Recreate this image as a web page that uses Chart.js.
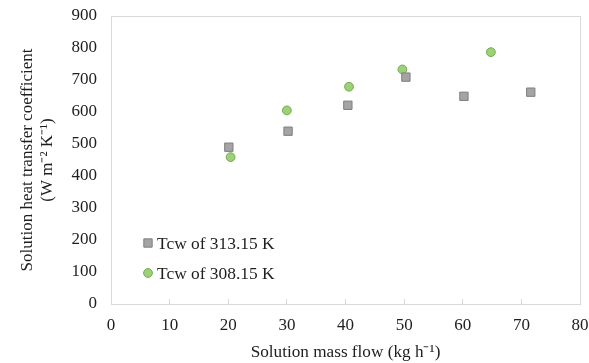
<!DOCTYPE html>
<html lang="en">
<head>
<meta charset="UTF-8">
<title>Solution heat transfer coefficient</title>
<script src="https://cdn.jsdelivr.net/npm/chart.js"></script>
<style>
  html, body { margin: 0; padding: 0; background: #fff; }
  #wrap { width: 589px; height: 363px; }
</style>
</head>
<body>
<div id="wrap"><canvas id="chart"></canvas></div>
<script>
// series 1 - Tcw of 313.15 K (grey squares)
const flow313 = [20.1, 30.2, 40.4, 50.3, 60.2, 71.6];
const htc313  = [490, 540, 621, 709, 649, 662];

// series 2 - Tcw of 308.15 K (green circles)
const flow308 = [20.4, 30.0, 40.6, 49.7, 64.8];
const htc308  = [459, 605, 679, 733, 787];

const seriesNames = ['Tcw of 313.15 K', 'Tcw of 308.15 K'];

const toPoints = (xs, ys) => xs.map((x, i) => ({ x: x, y: ys[i] }));

const serif = 'Liberation Serif, Times New Roman, serif';
const txtColor = '#1e1e1e';

// box round the plot + legend inside the plot (bottom left)
const frameAndLegend = {
  id: 'frameAndLegend',
  beforeDatasetsDraw(chart) {
    const { ctx, chartArea: a } = chart;
    ctx.save();
    ctx.strokeStyle = '#d9d9d9';
    ctx.lineWidth = 1;
    ctx.strokeRect(a.left + 0.5, a.top + 0.5, a.right - a.left, a.bottom - a.top);
    ctx.restore();
  },
  afterDraw(chart) {
    const { ctx, chartArea: a } = chart;
    ctx.save();
    ctx.font = '17.4px ' + serif;
    ctx.textBaseline = 'middle';
    ctx.fillStyle = txtColor;
    chart.data.datasets.forEach((ds, i) => {
      const x = a.left + 37;
      const y = a.top + 227 + i * 30;
      ctx.save();
      ctx.fillStyle = ds.backgroundColor;
      ctx.strokeStyle = ds.borderColor;
      ctx.lineWidth = 1;
      Chart.helpers.drawPoint(ctx, { pointStyle: ds.pointStyle, radius: ds.pointRadius, borderWidth: 1 }, x, y);
      ctx.restore();
      ctx.fillText(ds.label, x + 9, y + 1);
    });
    ctx.restore();
  }
};

new Chart(document.getElementById('chart'), {
  type: 'scatter',
  data: {
    datasets: [
      {
        label: seriesNames[0],
        data: toPoints(flow313, htc313),
        pointStyle: 'rect',
        pointRadius: 5.9,
        pointHoverRadius: 5.9,
        backgroundColor: '#a5a3a5',
        borderColor: '#7f7f7f',
        borderWidth: 1
      },
      {
        label: seriesNames[1],
        data: toPoints(flow308, htc308),
        pointStyle: 'circle',
        pointRadius: 4.4,
        pointHoverRadius: 4.4,
        backgroundColor: '#9dd07b',
        borderColor: '#70ad47',
        borderWidth: 1
      }
    ]
  },
  options: {
    responsive: true,
    maintainAspectRatio: false,
    animation: false,
    layout: { padding: { left: 0, right: 9, top: 16, bottom: 0 } },
    plugins: {
      legend: { display: false },
      tooltip: { enabled: false }
    },
    scales: {
      x: {
        type: 'linear',
        min: 0,
        max: 80,
        ticks: { stepSize: 10, padding: 16, color: txtColor, font: { family: serif, size: 17 } },
        grid: { drawOnChartArea: false, drawTicks: true, tickLength: -5, color: '#d9d9d9' },
        border: { display: false },
        title: {
          display: true,
          text: 'Solution mass flow (kg h\u207B\u00B9)',
          color: txtColor,
          font: { family: serif, size: 17.2 },
          padding: { top: 0, bottom: 0 }
        },
        afterFit(scale) {
          scale.height = 59;
          scale.paddingLeft = 0;
          scale.paddingRight = 0;
        }
      },
      y: {
        type: 'linear',
        min: 0,
        max: 900,
        ticks: { stepSize: 100, padding: 14, color: txtColor, font: { family: serif, size: 17 } },
        grid: { display: false, drawTicks: false },
        border: { display: false },
        title: {
          display: true,
          text: ['Solution heat transfer coefficient', '(W m\u207B\u00B2 K\u207B\u00B9)'],
          color: txtColor,
          font: { family: serif, size: 17 },
          padding: { top: 17, bottom: 0 }
        },
        afterFit(scale) {
          scale.width = 111;
          scale.paddingTop = 0;
          scale.paddingBottom = 0;
        }
      }
    }
  },
  plugins: [frameAndLegend]
});
</script>
</body>
</html>
